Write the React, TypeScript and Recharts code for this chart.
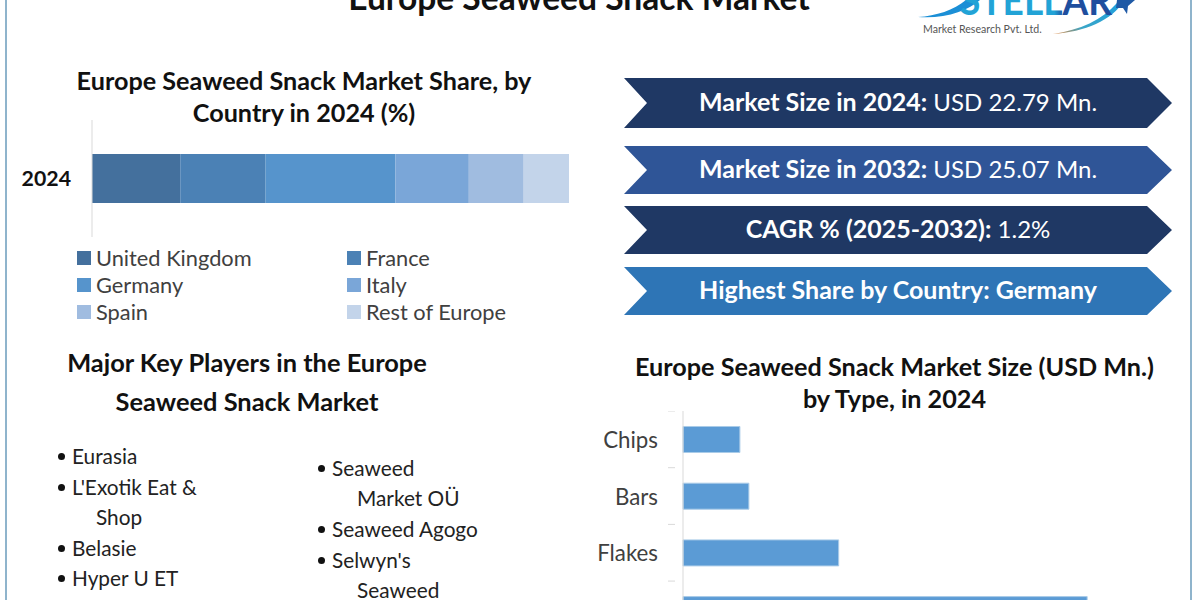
import { Bar, BarChart, Legend, XAxis, YAxis } from "recharts";

const countries = ["United Kingdom", "France", "Germany", "Italy", "Spain", "Rest of Europe"];
const countryShares = [18.5, 17.9, 27.2, 15.4, 11.5, 9.5];
const countryColors = ["#44709d", "#4b81b5", "#5694cc", "#7aa6d8", "#a0bce0", "#c3d4ea"];

const types = ["Chips", "Bars", "Flakes", "Sheets"];
const typeValues = [1.9, 2.2, 5.2, 13.5];

const keyPlayersLeft = [
  { text: "Eurasia", y: 455.5, bullet: true },
  { text: "L'Exotik Eat &", y: 486.5, bullet: true },
  { text: "Shop", y: 516.5, bullet: false },
  { text: "Belasie", y: 547.5, bullet: true },
  { text: "Hyper U ET", y: 577.5, bullet: true },
];
const keyPlayersRight = [
  { text: "Seaweed", y: 467.5, bullet: true },
  { text: "Market OÜ", y: 497.5, bullet: false },
  { text: "Seaweed Agogo", y: 528.5, bullet: true },
  { text: "Selwyn's", y: 559.5, bullet: true },
  { text: "Seaweed", y: 589.5, bullet: false },
];

const banners = [
  { bold: "Market Size in 2024:", rest: " USD 22.79 Mn.", top: 78, height: 50, color: "#1f3864" },
  { bold: "Market Size in 2032:", rest: " USD 25.07 Mn.", top: 146, height: 48, color: "#2f5597" },
  { bold: "CAGR % (2025-2032):", rest: " 1.2%", top: 206, height: 48, color: "#1f3864" },
  { bold: "Highest Share by Country: Germany", rest: "", top: 267, height: 48, color: "#2e75b6" },
];

const shareRow = [{ year: "2024", ...Object.fromEntries(countries.map((c, i) => [c, countryShares[i]])) }];
const typeRows = types.map((name, i) => ({ name, value: typeValues[i] }));

const FONT = "Lato, sans-serif";
const TYPE_BAND = 56.7;

function Label({ x, y, width, size, bold, color, align, children }: any) {
  return (
    <div
      style={{
        position: "absolute",
        left: x,
        top: y - 20,
        width: width ?? 500,
        height: 40,
        lineHeight: "40px",
        fontSize: size,
        fontWeight: bold ? 700 : 400,
        color: color ?? "#111",
        textAlign: align ?? "left",
        whiteSpace: "nowrap",
      }}
    >
      {children}
    </div>
  );
}

function ShareLegend({ payload }: any) {
  return (
    <div style={{ position: "relative", height: 93, fontSize: 21.8, color: "#404040" }}>
      {(payload ?? []).map((item: any, i: number) => {
        const left = i % 2 === 0 ? 77 : 347;
        const top = 21 + Math.floor(i / 2) * 27;
        return (
          <div key={item.value}>
            <span style={{ position: "absolute", left, top: top - 7, width: 14, height: 14, background: item.color }} />
            <span style={{ position: "absolute", left: left + 19, top: top - 14, lineHeight: "28px", whiteSpace: "nowrap" }}>
              {item.value}
            </span>
          </div>
        );
      })}
    </div>
  );
}

function TypeTick({ x, y, payload }: any) {
  return (
    <g>
      <line x1={x - 7} x2={x} y1={y - TYPE_BAND / 2} y2={y - TYPE_BAND / 2} stroke="#d9d9d9" />
      <text x={x - 17} y={y + 8.5} textAnchor="end" fontSize={22.3} fill="#404040" fontFamily={FONT}>
        {payload.value}
      </text>
    </g>
  );
}

function Logo() {
  return (
    <svg width={260} height={40} style={{ position: "absolute", left: 900, top: 0 }}>
      <defs>
        <linearGradient id="swoosh" x1="0" x2="1" y1="1" y2="0">
          <stop offset="0" stopColor="#e8873a" />
          <stop offset="0.3" stopColor="#3aa6c8" />
          <stop offset="1" stopColor="#1b9fe0" />
        </linearGradient>
        <linearGradient id="letters" gradientUnits="userSpaceOnUse" x1="60" x2="212" y1="0" y2="0">
          <stop offset="0.62" stopColor="#22a3d6" />
          <stop offset="0.68" stopColor="#1f4e9e" />
        </linearGradient>
      </defs>
      <path d="M18 17 C36 16 54 10 66 0 L80 0 C68 11 45 19 18 17 Z" fill="#1b8fd6" />
      <path d="M153 34 C180 30 202 20 217 3 L224 1 C212 20 185 32 153 34 Z" fill="url(#swoosh)" />
      <text x={60} y={15} fontSize={40} fontWeight={700} fontFamily={FONT} textLength={152} lengthAdjust="spacingAndGlyphs" fill="url(#letters)">
        STELLAR
      </text>
      <path d="M217 0 L235 0 L228 6 L227 14 L223 8 L216 8 Z" fill="#1f5aa6" />
      <text x={23} y={33} fontSize={10.6} fill="#555" fontFamily={FONT}>
        Market Research Pvt. Ltd.
      </text>
    </svg>
  );
}

export default function App() {
  return (
    <div
      style={{
        position: "absolute",
        left: 0,
        top: 0,
        width: 1200,
        height: 600,
        overflow: "hidden",
        background: "#fff",
        fontFamily: FONT,
      }}
    >
      <div style={{ position: "absolute", left: 5, top: 0, width: 2, height: 600, background: "#8fb4cc" }} />
      <div style={{ position: "absolute", left: 1190, top: 0, width: 2, height: 600, background: "#8fb4cc" }} />

      <Label x={279} y={-3} width={600} size={33.6} bold align="center">Europe Seaweed Snack Market</Label>
      <Logo />

      <Label x={4} y={80} width={600} size={25.2} bold align="center">Europe Seaweed Snack Market Share, by</Label>
      <Label x={4} y={112} width={600} size={25.2} bold align="center">Country in 2024 (%)</Label>

      <div style={{ position: "absolute", left: 0, top: 120 }}>
        <BarChart
          width={600}
          height={210}
          data={shareRow}
          layout="vertical"
          barCategoryGap={34}
          margin={{ top: 0, right: 31, bottom: 0, left: 0 }}
        >
          <XAxis type="number" domain={[0, 100]} hide />
          <YAxis
            type="category"
            dataKey="year"
            width={92}
            tickLine={false}
            axisLine={{ stroke: "#d9d9d9" }}
            tickMargin={15}
            tick={{ fontSize: 21.3, fontWeight: 700, fill: "#111", fontFamily: FONT }}
          />
          <Legend content={<ShareLegend />} verticalAlign="bottom" height={93} itemSorter={null} />
          {countries.map((c, i) => (
            <Bar key={c} dataKey={c} stackId="share" fill={countryColors[i]} isAnimationActive={false} />
          ))}
        </BarChart>
      </div>

      {banners.map((b) => (
        <div
          key={b.top}
          style={{
            position: "absolute",
            left: 624,
            top: b.top,
            width: 548,
            height: b.height,
            background: b.color,
            clipPath: "polygon(0 0, 523px 0, 100% 50%, 523px 100%, 0 100%, 23px 50%)",
            color: "#fff",
            fontSize: 24,
            textAlign: "center",
            lineHeight: `${b.height - 3}px`,
            whiteSpace: "nowrap",
          }}
        >
          <b style={{ fontSize: 25 }}>{b.bold}</b>
          {b.rest}
        </div>
      ))}

      <Label x={-3} y={362} width={500} size={25.4} bold align="center">Major Key Players in the Europe</Label>
      <Label x={-3} y={401} width={500} size={25.4} bold align="center">Seaweed Snack Market</Label>

      {keyPlayersLeft.map((p) => (
        <Label key={p.text} x={p.bullet ? 72 : 96} y={p.y} size={20.8} color="#222">{p.text}</Label>
      ))}
      {keyPlayersLeft.filter((p) => p.bullet).map((p) => (
        <div key={p.text} style={{ position: "absolute", left: 58, top: p.y - 3, width: 7, height: 7, borderRadius: 4, background: "#111" }} />
      ))}
      {keyPlayersRight.map((p, i) => (
        <Label key={i} x={p.bullet ? 332 : 357} y={p.y} size={20.8} color="#222">{p.text}</Label>
      ))}
      {keyPlayersRight.filter((p) => p.bullet).map((p) => (
        <div key={p.text} style={{ position: "absolute", left: 318, top: p.y - 3, width: 7, height: 7, borderRadius: 4, background: "#111" }} />
      ))}

      <Label x={584.5} y={366} width={620} size={25.2} bold align="center">Europe Seaweed Snack Market Size (USD Mn.)</Label>
      <Label x={584.5} y={398} width={620} size={25.2} bold align="center">by Type, in 2024</Label>

      <div style={{ position: "absolute", left: 583, top: 411 }}>
        <BarChart
          width={600}
          height={TYPE_BAND * 4}
          data={typeRows}
          layout="vertical"
          barCategoryGap={15.5}
          margin={{ top: 0, right: 21, bottom: 0, left: 0 }}
        >
          <XAxis type="number" domain={[0, 16]} hide />
          <YAxis
            type="category"
            dataKey="name"
            width={100}
            tickLine={false}
            axisLine={{ stroke: "#d9d9d9" }}
            tick={<TypeTick />}
          />
          <Bar dataKey="value" fill="#5b9bd5" stroke="#a9cbe8" isAnimationActive={false} />
        </BarChart>
      </div>
    </div>
  );
}
